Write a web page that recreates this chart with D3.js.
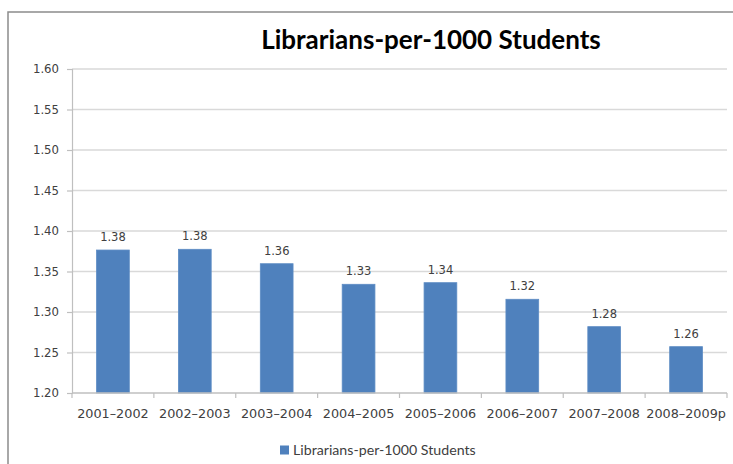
<!DOCTYPE html>
<html>
<head>
<meta charset="utf-8">
<script src="https://cdn.jsdelivr.net/npm/d3@7"></script>
<style>
  body { margin: 0; background: #fff; }
  svg { display: block; }
</style>
</head>
<body>
<div id="chart"></div>
<script>
// chart data
const years = ["2001\u20132002", "2002\u20132003", "2003\u20132004", "2004\u20132005",
               "2005\u20132006", "2006\u20132007", "2007\u20132008", "2008\u20132009p"];
const ratios = [1.3765, 1.3774, 1.3596, 1.3342, 1.3362, 1.3157, 1.2819, 1.2572];
const yTicks = [1.20, 1.25, 1.30, 1.35, 1.40, 1.45, 1.50, 1.55, 1.60];
const chartTitle = "Librarians-per-1000 Students";
const seriesName = "Librarians-per-1000 Students";

const width = 733, height = 464;
const margin = { top: 69, right: 6, bottom: 71, left: 72 };

const svg = d3.select("#chart").append("svg")
  .attr("width", width)
  .attr("height", height);

// outer frame
svg.append("rect")
  .attr("x", 8).attr("y", 12)
  .attr("width", width + 20).attr("height", height + 20)
  .attr("fill", "none")
  .attr("stroke", "#8c8c8c")
  .attr("stroke-width", 1.5);

const x = d3.scaleBand()
  .domain(years)
  .range([margin.left, width - margin.right])
  .paddingInner(0.6)
  .paddingOuter(0.3);

const y = d3.scaleLinear()
  .domain([1.2, 1.6])
  .range([height - margin.bottom, margin.top]);

// grid lines
svg.append("g")
  .selectAll("line")
  .data(yTicks.slice(1))
  .join("line")
  .attr("x1", margin.left)
  .attr("x2", width - margin.right)
  .attr("y1", d => y(d))
  .attr("y2", d => y(d))
  .attr("stroke", "#d9d9d9")
  .attr("stroke-width", 1.5);

// y axis
const yAxis = svg.append("g")
  .attr("transform", `translate(${margin.left},0)`)
  .call(d3.axisLeft(y).tickValues(yTicks).tickFormat(d3.format(".2f")).tickSize(5).tickPadding(8));
yAxis.select(".domain").attr("stroke", "#bfbfbf").attr("stroke-width", 1.2);
yAxis.selectAll(".tick line").attr("stroke", "#bfbfbf").attr("stroke-width", 1.2);
yAxis.selectAll("text")
  .attr("font-family", "DejaVu Sans, Verdana, sans-serif")
  .attr("font-size", 11.7)
  .attr("fill", "#404040");

// bars
svg.append("g")
  .selectAll("rect")
  .data(ratios)
  .join("rect")
  .attr("x", (d, i) => x(years[i]))
  .attr("y", d => y(d))
  .attr("width", x.bandwidth())
  .attr("height", d => y(1.2) - y(d))
  .attr("fill", "#4f81bd")
  .attr("stroke", "#5d8cc4")
  .attr("stroke-width", 0.8);

// value labels
svg.append("g")
  .selectAll("text")
  .data(ratios)
  .join("text")
  .attr("x", (d, i) => x(years[i]) + x.bandwidth() / 2)
  .attr("y", d => y(d) - 9)
  .attr("text-anchor", "middle")
  .attr("font-family", "DejaVu Sans, Verdana, sans-serif")
  .attr("font-size", 11.5)
  .attr("fill", "#404040")
  .text(d => d.toFixed(2));

// x axis
const xAxisG = svg.append("g");
xAxisG.append("line")
  .attr("x1", margin.left).attr("x2", width - margin.right)
  .attr("y1", y(1.2)).attr("y2", y(1.2))
  .attr("stroke", "#bfbfbf").attr("stroke-width", 1.5);
xAxisG.selectAll("line.tick")
  .data(d3.range(years.length + 1))
  .join("line")
  .attr("class", "tick")
  .attr("x1", i => margin.left + i * (width - margin.right - margin.left) / years.length)
  .attr("x2", i => margin.left + i * (width - margin.right - margin.left) / years.length)
  .attr("y1", y(1.2)).attr("y2", y(1.2) + 5)
  .attr("stroke", "#bfbfbf").attr("stroke-width", 1.2);
xAxisG.selectAll("text")
  .data(years)
  .join("text")
  .attr("x", d => x(d) + x.bandwidth() / 2)
  .attr("y", y(1.2) + 25)
  .attr("text-anchor", "middle")
  .attr("font-family", "DejaVu Sans, Verdana, sans-serif")
  .attr("font-size", 12.8)
  .attr("fill", "#404040")
  .text(d => d);

// title
svg.append("text")
  .attr("x", 431)
  .attr("y", 49)
  .attr("text-anchor", "middle")
  .attr("font-family", "Lato, 'Open Sans', sans-serif")
  .attr("font-weight", "bold")
  .attr("font-size", 26)
  .attr("fill", "#000")
  .text(chartTitle);

// legend
const legend = svg.append("g").attr("transform", "translate(280,450)");
legend.append("rect")
  .attr("x", 0).attr("y", -4.5)
  .attr("width", 9).attr("height", 9)
  .attr("fill", "#4f81bd");
legend.append("text")
  .attr("x", 13)
  .attr("y", 5)
  .attr("font-family", "Lato, 'Open Sans', sans-serif")
  .attr("font-size", 14.2)
  .attr("fill", "#404040")
  .text(seriesName);
</script>
</body>
</html>
